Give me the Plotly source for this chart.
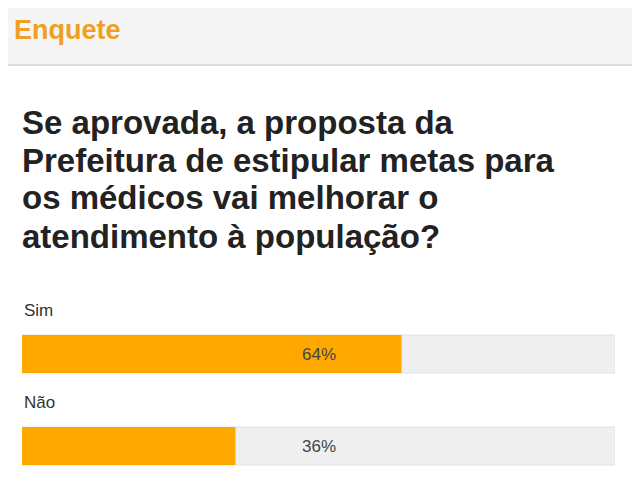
import plotly.graph_objects as go

# Poll data
options = ["Sim", "Não"]
percents = [64, 36]
title = "Enquete"
question_lines = [
    "Se aprovada, a proposta da",
    "Prefeitura de estipular metas para",
    "os médicos vai melhorar o",
    "atendimento à população?",
]

W, H = 640, 480
OFF = 8  # page body margin shifts the figure
ypos = list(range(len(options)))


def px_x(v):
    return (v - OFF) / W


def px_y(v):
    return 1 - (v - OFF) / H


fig = go.Figure()
# grey track behind each bar
fig.add_trace(go.Bar(x=[100] * len(options), y=ypos, orientation="h",
                     marker=dict(color="#efefef", line=dict(color="#e2e2e2", width=1)),
                     width=0.413, hoverinfo="skip"))
fig.add_trace(go.Bar(x=percents, y=ypos, orientation="h",
                     marker=dict(color="#ffa800", line=dict(width=0)),
                     width=0.413, hoverinfo="skip"))

ann = []
for i, (o, p) in enumerate(zip(options, percents)):
    ann.append(dict(x=0, y=i, xref="x", yref="y", text=o, showarrow=False,
                    xanchor="left", yanchor="middle", yshift=44,
                    font=dict(size=17, color="#333333", family="Liberation Sans")))
    ann.append(dict(x=50, y=i, xref="x", yref="y", text=f"{p}%", showarrow=False,
                    xanchor="center", yanchor="middle",
                    font=dict(size=17, color="#444444", family="Liberation Sans")))

ann.append(dict(x=px_x(12), y=px_y(30), xref="paper", yref="paper", text=f"<b>{title}</b>",
                showarrow=False, xanchor="left", yanchor="middle",
                font=dict(size=27, color="#f0a020", family="Liberation Sans")))
for k, line in enumerate(question_lines):
    ann.append(dict(x=px_x(20), y=px_y(122 + 38 * k), xref="paper", yref="paper",
                    text=f"<b>{line}</b>", showarrow=False, xanchor="left", yanchor="middle",
                    font=dict(size=33, color="#222222", family="Liberation Sans")))

y_top = 354 - OFF
fig.update_layout(
    width=W, height=H, barmode="overlay", showlegend=False,
    margin=dict(l=0, r=0, t=0, b=0),
    paper_bgcolor="white", plot_bgcolor="rgba(0,0,0,0)",
    xaxis=dict(domain=[px_x(22), px_x(615)], range=[0, 100], visible=False, fixedrange=True),
    yaxis=dict(domain=[0, 1], range=[1 + (H - (446 - OFF)) / 92, -y_top / 92],
               visible=False, fixedrange=True),
    annotations=ann,
    shapes=[
        dict(type="rect", xref="paper", yref="paper", x0=0, x1=1, y0=px_y(65), y1=1,
             fillcolor="#f5f5f5", line=dict(width=0), layer="below"),
        dict(type="line", xref="paper", yref="paper", x0=0, x1=1, y0=px_y(65), y1=px_y(65),
             line=dict(color="#dddddd", width=2)),
        dict(type="line", xref="paper", yref="paper", x0=px_x(2), x1=px_x(2), y0=0, y1=1,
             line=dict(color="#e0e0e0", width=1)),
        dict(type="line", xref="paper", yref="paper", x0=px_x(636), x1=px_x(636), y0=0, y1=1,
             line=dict(color="#e0e0e0", width=1)),
    ],
)
fig.write_html("out.html")
